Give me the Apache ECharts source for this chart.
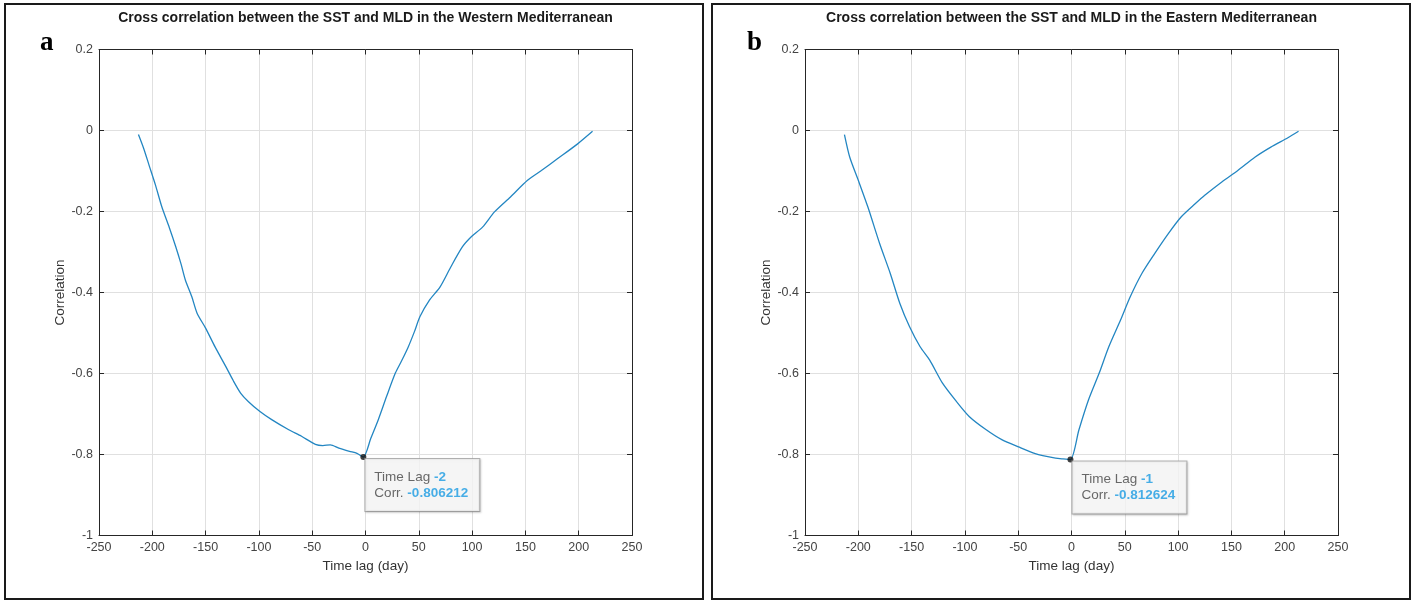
<!DOCTYPE html>
<html>
<head>
<meta charset="utf-8">
<script src="https://cdn.jsdelivr.net/npm/echarts@6/dist/echarts.min.js"></script>
<style>
html,body{margin:0;padding:0;background:#fff;}
#c{width:1415px;height:601px;}
</style>
</head>
<body>
<div id="c"></div>
<script>
// ---- Data ----
const titles = [
  'Cross correlation between the SST and MLD in the Western Mediterranean',
  'Cross correlation between the SST and MLD in the Eastern Mediterranean'
];
const panelLetters = ['a', 'b'];
const xTicks = [-250, -200, -150, -100, -50, 0, 50, 100, 150, 200, 250];
const yTicks = [-1, -0.8, -0.6, -0.4, -0.2, 0, 0.2];
const xName = 'Time lag (day)';
const yName = 'Correlation';

const lagA = [-213,-208,-203,-197,-191,-184,-178,-173,-169,-163,-158,-150,-141,-131,-124,-117,-110,-99,-88,-72,-60,-47,-40,-33,-25,-15,-8,-2,
  5,12,20,28,34,40,46,51,60,70,80,91,99,110,121,136,152,165,180,199,213];
const corrA = [-0.010,-0.045,-0.086,-0.135,-0.189,-0.240,-0.287,-0.330,-0.369,-0.410,-0.451,-0.488,-0.535,-0.583,-0.618,-0.649,-0.669,-0.694,-0.714,-0.739,-0.755,-0.775,-0.778,-0.776,-0.784,-0.792,-0.797,-0.806212,
  -0.760,-0.714,-0.655,-0.599,-0.568,-0.535,-0.496,-0.460,-0.419,-0.386,-0.337,-0.287,-0.263,-0.238,-0.201,-0.164,-0.123,-0.099,-0.070,-0.033,-0.002];

const lagB = [-213,-208,-200,-191,-180,-170,-161,-152,-142,-133,-121,-108,-96,-80,-65,-49,-34,-27,-15,-8,-1,
  7,16,26,35,46,55,66,78,91,103,116,125,141,156,172,187,203,213];
const corrB = [-0.010,-0.066,-0.123,-0.189,-0.279,-0.353,-0.427,-0.484,-0.534,-0.567,-0.624,-0.669,-0.706,-0.739,-0.764,-0.782,-0.798,-0.803,-0.809,-0.811,-0.812624,
  -0.739,-0.665,-0.599,-0.534,-0.468,-0.411,-0.353,-0.304,-0.254,-0.213,-0.181,-0.160,-0.127,-0.099,-0.066,-0.041,-0.018,-0.002];

const tipLag = [-2, -1];
const tipCorr = [-0.806212, -0.812624];

// ---- Layout ----
const grids = [
  {left: 99, top: 49.5, width: 533, height: 486},
  {left: 805, top: 49.5, width: 533, height: 486}
];
const lineColor = '#2386c2';
const axisColor = '#262626';
const labelColor = '#444';
const gridColor = '#e0e0e0';
const FONT = 'Liberation Sans, Arial, Helvetica, sans-serif';

const xAxes = [], yAxes = [], series = [];
grids.forEach((g, i) => {
  xAxes.push({
    gridIndex: i, type: 'value', min: xTicks[0], max: xTicks[xTicks.length-1], interval: 50,
    name: xName, nameLocation: 'middle', nameGap: 22,
    nameTextStyle: {color: '#333', fontSize: 13.5, fontFamily: FONT},
    axisLine: {show: true, onZero: false, lineStyle: {color: axisColor, width: 1}},
    axisTick: {show: true, inside: true, length: 5, lineStyle: {color: axisColor}},
    axisLabel: {color: labelColor, fontSize: 12.5, fontFamily: FONT, margin: 6},
    splitLine: {show: true, lineStyle: {color: gridColor, width: 1}}
  });
  xAxes.push({
    gridIndex: i, type: 'value', position: 'top', min: xTicks[0], max: xTicks[xTicks.length-1], interval: 50,
    axisLine: {show: true, onZero: false, lineStyle: {color: axisColor, width: 1}},
    axisTick: {show: true, inside: true, length: 5, lineStyle: {color: axisColor}},
    axisLabel: {show: false}, splitLine: {show: false}
  });
  yAxes.push({
    gridIndex: i, type: 'value', min: yTicks[0], max: yTicks[yTicks.length-1], interval: 0.2,
    name: yName, nameLocation: 'middle', nameGap: 31, nameRotate: 90,
    nameTextStyle: {color: '#333', fontSize: 13.5, fontFamily: FONT},
    axisLine: {show: true, onZero: false, lineStyle: {color: axisColor, width: 1}},
    axisTick: {show: true, inside: true, length: 5, lineStyle: {color: axisColor}},
    axisLabel: {color: labelColor, fontSize: 12.5, fontFamily: FONT, margin: 6,
      formatter: v => { const r = Math.round(v*10)/10; return r === 0 ? '0' : String(r); }},
    splitLine: {show: true, lineStyle: {color: gridColor, width: 1}}
  });
  yAxes.push({
    gridIndex: i, type: 'value', position: 'right', min: yTicks[0], max: yTicks[yTicks.length-1], interval: 0.2,
    axisLine: {show: true, onZero: false, lineStyle: {color: axisColor, width: 1}},
    axisTick: {show: true, inside: true, length: 5, lineStyle: {color: axisColor}},
    axisLabel: {show: false}, splitLine: {show: false}
  });
});

const lags = [lagA, lagB], corrs = [corrA, corrB];
[0, 1].forEach(i => {
  series.push({
    type: 'line', xAxisIndex: i*2, yAxisIndex: i*2,
    data: lags[i].map((x, k) => [x, corrs[i][k]]),
    showSymbol: false, smooth: 0.25, animation: false,
    lineStyle: {color: lineColor, width: 1.3}
  });
  series.push({
    type: 'scatter', xAxisIndex: i*2, yAxisIndex: i*2, animation: false,
    data: [[tipLag[i], tipCorr[i]]],
    symbolSize: 6, itemStyle: {color: '#111'}, z: 10,
    label: {
      show: true, position: [5, 5], align: 'left', verticalAlign: 'top',
      backgroundColor: '#fbfbfb', borderColor: '#a0a0a0', borderWidth: 1,
      shadowColor: 'rgba(0,0,0,0.18)', shadowBlur: 2, shadowOffsetX: 1, shadowOffsetY: 1,
      padding: [10, 7, 10, 9], width: 98, lineHeight: 16,
      formatter: () => '{a|Time Lag }{b|' + tipLag[i] + '}\n{a|Corr. }{b|' + tipCorr[i] + '}',
      rich: {
        a: {color: '#444', fontSize: 13.5, fontFamily: FONT, lineHeight: 16},
        b: {color: '#1a9be2', fontSize: 13.5, fontWeight: 'bold', fontFamily: FONT, lineHeight: 16}
      }
    }
  });
});

const graphics = [];
const panelBoxes = [[5, 4, 698, 595], [712, 4, 698, 595]];
panelBoxes.forEach((b, i) => {
  graphics.push({type: 'rect', shape: {x: b[0], y: b[1], width: b[2], height: b[3]},
    style: {fill: 'none', stroke: '#1a1a1a', lineWidth: 2}, z: 0});
  graphics.push({type: 'text', style: {
    text: titles[i], x: grids[i].left + grids[i].width/2, y: 18,
    textAlign: 'center', textVerticalAlign: 'middle',
    font: 'bold 14px ' + FONT, fill: '#1a1a1a'}});
  graphics.push({type: 'text', style: {
    text: panelLetters[i], x: b[0] + 35, y: 43,
    textAlign: 'left', textVerticalAlign: 'middle',
    font: 'bold 27px "Liberation Serif", "Times New Roman", serif', fill: '#000'}});
});

const chart = echarts.init(document.getElementById('c'), null, {renderer: 'canvas'});
chart.setOption({
  animation: false,
  backgroundColor: '#fff',
  grid: grids,
  xAxis: xAxes,
  yAxis: yAxes,
  series: series,
  graphic: graphics
});
</script>
</body>
</html>
